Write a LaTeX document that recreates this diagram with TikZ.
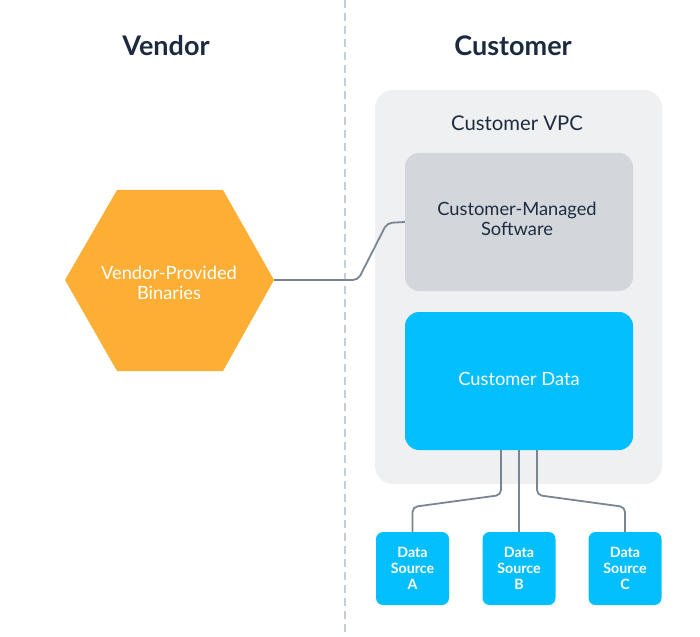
\documentclass[tikz,border=0pt]{standalone}
\usepackage{fontspec}
\setmainfont{Lato}
\definecolor{orng}{HTML}{FDAE34}
\definecolor{vpcfill}{HTML}{EFF0F2}
\definecolor{swfill}{HTML}{D3D7DC}
\definecolor{cyanb}{HTML}{03BFFE}
\definecolor{wire}{HTML}{7A8593}
\definecolor{dashcol}{HTML}{C5CCDA}
\definecolor{navy}{HTML}{1B2A3F}
\definecolor{txt}{HTML}{1D2C40}
\tikzset{
  title/.style={font=\fontsize{27}{30}\selectfont\bfseries, text=navy},
  lbl/.style={align=center, font=\fontsize{18.3}{20}\selectfont},
  bigbox/.style={rounded corners=14pt, minimum width=228pt, minimum height=138pt, inner sep=0pt},
  wirestyle/.style={draw=wire, line width=1.8pt, rounded corners=5pt},
  srcbox/.style={fill=cyanb, rounded corners=7pt, minimum width=73pt, minimum height=73pt, inner sep=0pt, align=center, text=white, font=\fontsize{14.2}{16}\selectfont\bfseries},
}
\begin{document}
\begin{tikzpicture}[x=1pt,y=-1pt]
\useasboundingbox (0,0) rectangle (700,636);
% divider
\draw[draw=dashcol, line width=1.2pt, dash pattern=on 8pt off 5pt] (345,0) -- (345,636);
% titles
\node[title] (tv) at (166,46) {Vendor};
\node[title] (tc) at (513,46) {Customer};
% VPC
\fill[vpcfill, rounded corners=18pt] (375,90) rectangle (662,484);
\node[font=\fontsize{20.3}{24}\selectfont, text=txt] (vpc) at (517,123) {Customer VPC};
% software box
\node[bigbox, fill=swfill] (sw) at (519,222) {};
\node[lbl, text=txt] (swl) at (517,218.5) {Customer-Managed\\Software};
% data box
\node[bigbox, fill=cyanb] (cd) at (519,381) {};
\node[lbl, text=white] (cdl) at (519,378.5) {Customer Data};
% hexagon
\fill[orng] (65,280) -- (117,190) -- (223,190) -- (274,280) -- (223,371) -- (117,371) -- cycle;
\coordinate (hexr) at (274,280);
\node[lbl, text=white] (hex) at (169,282.5) {Vendor-Provided\\Binaries};
% sources
\node[srcbox] (sa) at (412.5,568.5) {Data\\Source\\A};
\node[srcbox] (sb) at (519,568.5) {Data\\Source\\B};
\node[srcbox] (sc) at (625,568.5) {Data\\Source\\C};
% wires
\draw[wirestyle] (cd.south -| 501,0) -- (501,495) -- (412.5,507) -- (sa.north);
\draw[wirestyle] (hexr) -- (358,280) -- (387,223) -- (sw.west);
\draw[wirestyle] (cd.south -| 519,0) -- (sb.north);
\draw[wirestyle] (cd.south -| 537,0) -- (537,495) -- (625,507) -- (sc.north);
\end{tikzpicture}
\end{document}
